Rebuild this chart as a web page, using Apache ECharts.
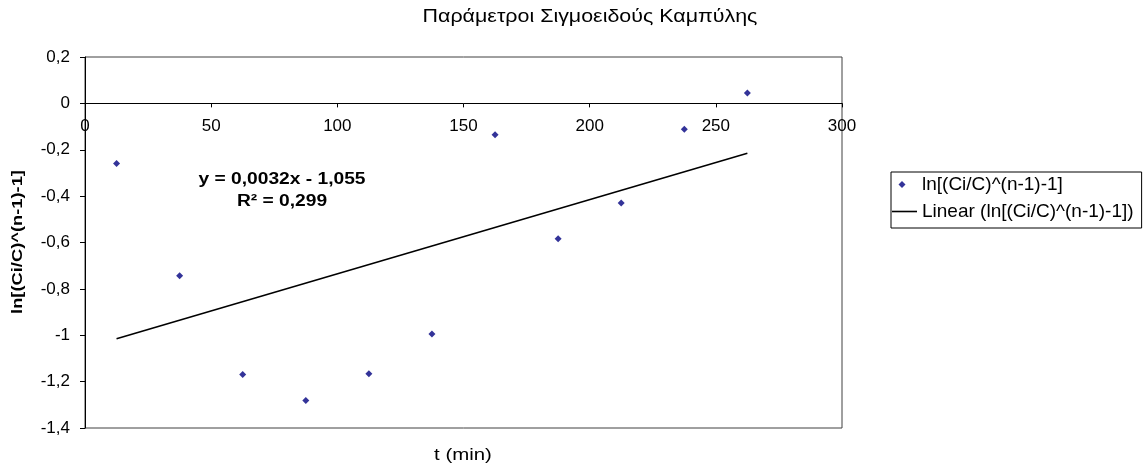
<!DOCTYPE html>
<html>
<head>
<meta charset="utf-8">
<script src="https://cdn.jsdelivr.net/npm/echarts@6/dist/echarts.min.js"></script>
<style>
  html, body { margin: 0; padding: 0; background: #ffffff; }
  #chart { width: 1143px; height: 468px; }
</style>
</head>
<body>
<div id="chart"></div>
<script>
// Measurement times (min) and the linearised sigmoid quantity
const times = [12.5, 37.5, 62.5, 87.5, 112.5, 137.5, 162.5, 187.5, 212.5, 237.5, 262.5];
const lnValues = [-0.259, -0.743, -1.169, -1.281, -1.166, -0.995, -0.135, -0.584, -0.430, -0.112, 0.045];

// Least-squares trend line
const trendSlope = 0.0032;
const trendIntercept = -1.055;
const trendR2 = 0.299;

// Axis ranges
const xMin = 0, xMax = 300, xStep = 50;
const yMin = -1.4, yMax = 0.2, yStep = 0.2;

const seriesName = 'ln[(Ci/C)^(n-1)-1]';
const trendName = 'Linear (ln[(Ci/C)^(n-1)-1])';
const chartTitle = 'Παράμετροι Σιγμοειδούς Καμπύλης';
const xAxisTitle = 't (min)';

const FONT = '"Liberation Sans", Arial, sans-serif';

// Decimal comma formatting
function comma(v, digits) {
  const r = digits == null ? String(Math.round(v * 10) / 10) : v.toFixed(digits);
  return r.replace('.', ',');
}

const points = times.map((t, i) => [t, lnValues[i]]);
const tFirst = times[0];
const tLast = times[times.length - 1];
const trendPoints = [
  [tFirst, trendSlope * tFirst + trendIntercept],
  [tLast, trendSlope * tLast + trendIntercept]
];

const eqLine1 = 'y = ' + comma(trendSlope, 4) + 'x - ' + comma(-trendIntercept, 3);
const eqLine2 = 'R² = ' + comma(trendR2, 3);

// Plot rectangle; the horizontal axis is lifted to the y = 0 level
const W = 1143, H = 468;
const gridLeft = 85, gridRight = 301, gridTop = 57, gridBottom = 40;
const plotH = H - gridTop - gridBottom;
const zeroOffset = -plotH * (0 - yMin) / (yMax - yMin);

const chart = echarts.init(document.getElementById('chart'), null, { renderer: 'canvas' });
chart.setOption({
  animation: false,
  backgroundColor: '#ffffff',
  textStyle: { fontFamily: FONT },
  grid: {
    left: gridLeft, right: gridRight, top: gridTop, bottom: gridBottom,
    show: true, borderColor: '#404040', borderWidth: 1, backgroundColor: 'transparent'
  },
  xAxis: {
    type: 'value', min: xMin, max: xMax, interval: xStep,
    position: 'bottom', offset: zeroOffset,
    axisLine: { onZero: false, lineStyle: { color: '#000', width: 1 } },
    axisTick: { show: true, length: 4, lineStyle: { color: '#000' } },
    axisLabel: { color: '#000', fontSize: 17, fontFamily: FONT, margin: 14 },
    splitLine: { show: false }
  },
  yAxis: {
    type: 'value', min: yMin, max: yMax, interval: yStep,
    axisLine: { show: true, onZero: false, lineStyle: { color: '#000', width: 1 } },
    axisTick: { show: true, length: 5, lineStyle: { color: '#000' } },
    axisLabel: { color: '#000', fontSize: 17, fontFamily: FONT, margin: 15,
      formatter: v => comma(v) },
    splitLine: { show: false }
  },
  legend: {
    orient: 'vertical', left: 891, top: 172,
    padding: [3, 8, 7, 1], itemGap: 8, itemWidth: 25, itemHeight: 14,
    borderColor: '#000', borderWidth: 1, backgroundColor: '#fff',
    textStyle: { color: '#000', fontSize: 19, fontFamily: FONT },
    data: [
      { name: seriesName, icon: 'path://M0,0M25,14M10,3.5L13.5,7L10,10.5L6.5,7Z',
        itemStyle: { color: '#000080' } },
      { name: trendName, icon: 'path://M0,0M25,14M0,6.2L25,6.2L25,7.8L0,7.8Z',
        itemStyle: { color: '#000' } }
    ]
  },
  graphic: [
    { type: 'text', x: 590, y: 17, scaleX: 1.19,
      style: { text: chartTitle, font: '18px ' + FONT, fill: '#000', align: 'center', verticalAlign: 'middle' } },
    { type: 'text', x: 463, y: 455, scaleX: 1.2,
      style: { text: xAxisTitle, font: '17px ' + FONT, fill: '#000', align: 'center', verticalAlign: 'middle' } },
    { type: 'text', x: 18, y: 242, rotation: Math.PI / 2, scaleX: 1.22,
      style: { text: seriesName, font: 'bold 15px ' + FONT, fill: '#000', align: 'center', verticalAlign: 'middle' } },
    { type: 'text', x: 282, y: 180, scaleX: 1.2,
      style: { text: eqLine1, font: 'bold 16px ' + FONT, fill: '#000', align: 'center', verticalAlign: 'middle' } },
    { type: 'text', x: 282, y: 202, scaleX: 1.2,
      style: { text: eqLine2, font: 'bold 16px ' + FONT, fill: '#000', align: 'center', verticalAlign: 'middle' } }
  ],
  series: [
    {
      name: seriesName, type: 'scatter', data: points,
      symbol: 'diamond', symbolSize: 7,
      itemStyle: { color: '#000080' }
    },
    {
      name: trendName, type: 'line', data: trendPoints,
      symbol: 'none', lineStyle: { color: '#000', width: 1.6 },
      itemStyle: { color: '#000' }
    }
  ]
});
</script>
</body>
</html>
